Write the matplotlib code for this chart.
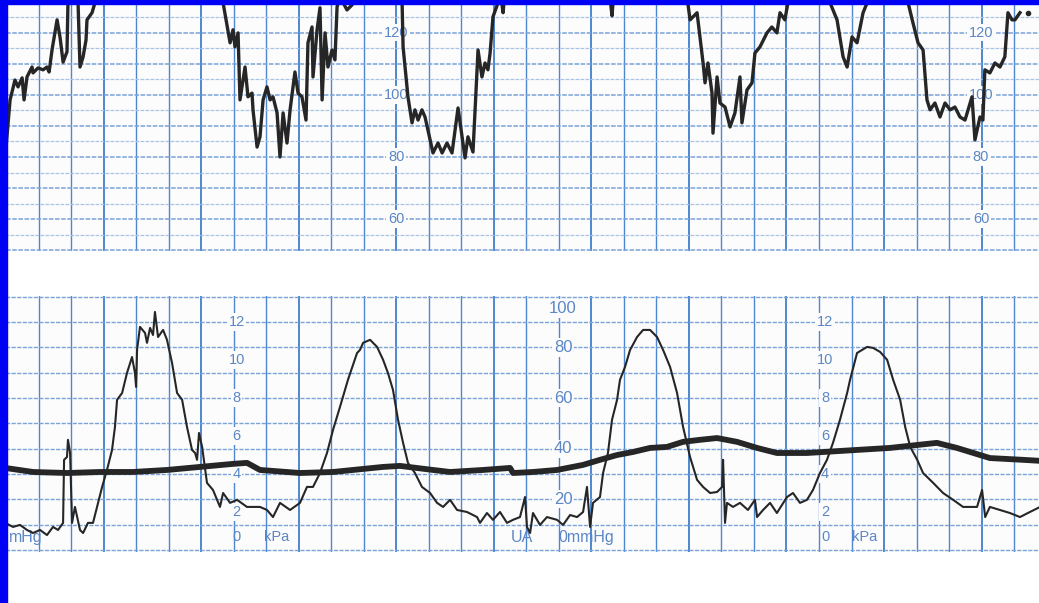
import numpy as np
import matplotlib
matplotlib.use("Agg")
import matplotlib.pyplot as plt
from matplotlib.patches import Rectangle

# ---------------- data (time in seconds along the strip) ----------------
# Fetal heart rate (bpm); values of 134 run off the top of the printed strip
fhr_t1 = [-20.5, -17.5, -14.5, -12.6, -10.1, -8.9, -7.1, -4.0, -3.4, -0.3, 2.8, 5.2, 6.5, 8.3, 11.4,
          13.2, 15.1, 17.5, 18.1, 19.4, 22.4, 24.3, 25.5, 27.4, 29.2, 29.8, 32.9, 34.7, 36.0]
fhr_v1 = [80.0, 98.4, 104.8, 102.6, 105.5, 98.4, 105.8, 109.0, 107.1, 108.7, 108.1, 109.0, 107.4, 114.5, 124.2,
          118.7, 110.6, 113.9, 129.7, 134, 134, 129.7, 109.0, 112.3, 117.7, 124.2, 126.5, 129.7, 134]
fhr_t2 = [108.6, 113.5, 117.8, 119.6, 120.8, 122.7, 123.9, 127.0, 128.8, 131.3, 131.9, 134.4, 136.2, 138.1,
          140.5, 142.4, 144.2, 146.7, 148.5, 150.4, 152.8, 154.7, 157.7, 159.6, 162.0, 164.5, 165.7, 168.2,
          168.8, 171.3, 173.1, 174.4, 176.2, 178.0, 180.5, 182.3, 183.6, 185.4, 189.7, 192.8, 195.3]
fhr_v2 = [134, 129.7, 116.8, 121.0, 115.5, 120.0, 98.4, 109.0, 99.4, 100.6, 95.2, 83.2, 86.5, 98.4,
          102.6, 98.4, 99.4, 94.2, 80.0, 94.2, 84.5, 95.2, 107.4, 100.6, 99.4, 91.9, 116.8, 121.9,
          105.8, 121.0, 128.1, 98.4, 120.0, 109.0, 114.5, 111.3, 128.4, 131.6, 127.4, 129.0, 134]
fhr_t3 = [221.0, 223.6, 224.2, 227.2, 229.7, 231.5, 233.4, 235.8, 237.7, 242.6, 245.7, 248.2, 251.2, 254.3,
          258.0, 262.3, 264.1, 267.2, 270.3, 272.7, 274.6, 276.4, 277.7, 279.5, 282.6, 283.8, 285.7, 286.9,
          350.9, 352.7, 353.9]
fhr_v3 = [134, 129.7, 115.5, 99.4, 91.0, 95.2, 91.9, 95.2, 92.9, 81.3, 84.5, 81.3, 84.5, 81.3,
          95.8, 79.7, 86.5, 81.6, 114.5, 105.8, 110.3, 108.1, 113.5, 125.2, 129.7, 134, 126.5, 134,
          134, 125.5, 134]
fhr_t4 = [398.2, 400.7, 405.0, 408.7, 409.9, 411.7, 414.2, 414.8, 417.3, 419.1, 422.2, 425.3, 428.3,
          431.4, 432.6, 435.7, 438.8, 440.6, 443.7, 448.0, 451.0, 454.1, 456.0, 459.0, 460.9, 462.2,
          484.9, 486.8, 491.1, 494.8, 497.3, 500.3, 503.4, 507.1, 509.6, 510.8]
fhr_v4 = [134, 124.2, 126.5, 110.3, 103.9, 110.3, 100.6, 87.7, 105.8, 97.4, 96.1, 89.7, 94.2,
          105.8, 91.0, 101.6, 103.9, 113.5, 115.5, 120.0, 121.9, 120.0, 126.5, 124.2, 129.7, 134,
          134, 129.7, 124.2, 112.3, 109.0, 118.7, 116.8, 126.5, 129.7, 134]
fhr_t5 = [532.9, 534.8, 537.8, 540.9, 544.0, 546.4, 548.3, 551.3, 554.4, 557.5, 560.6, 563.6, 566.7, 569.8,
          574.1, 575.9, 579.0, 580.8, 582.0, 585.1, 588.2, 591.3, 594.3, 596.2, 598.7, 600.5, 603.6]
fhr_v5 = [134, 129.7, 123.2, 116.8, 114.5, 98.4, 95.2, 97.4, 92.9, 97.4, 95.2, 96.1, 92.9, 91.9,
          99.4, 85.5, 92.9, 91.9, 108.1, 107.1, 110.3, 109.0, 112.3, 126.5, 124.2, 124.2, 126.5]
fhr_dot_t = [608.5]
fhr_dot_v = [126.5]

# Uterine activity (mmHg)
ua_t = [-20.5, -15.7, -11.4, -7.1, -3.4, 0.9, 5.2, 8.9, 12.0, 15.1, 15.7, 17.5, 18.1, 19.4, 20.6, 22.4,
        25.5, 27.4, 30.4, 33.5, 36.0, 39.1, 42.1, 45.2, 47.0, 48.3, 51.4, 54.4, 57.5, 59.3, 60.0, 60.6,
        62.4, 65.5, 66.7, 68.6, 70.4, 71.6, 73.5, 76.6, 79.0, 82.1, 85.2, 88.3, 91.3, 94.4, 96.3, 97.5,
        98.7, 100.6, 103.6, 107.3, 111.6, 113.5, 117.8, 122.1, 128.2, 136.2, 140.5, 144.2, 148.5, 154.7,
        160.8, 165.1, 168.8, 173.1, 177.4, 181.1, 185.4, 190.3, 195.9, 197.7, 199.6, 203.9, 208.2, 211.9,
        214.9, 218.0, 221.1, 224.2, 227.2, 231.5, 235.8, 240.8, 245.1, 248.8, 253.1, 257.4, 263.5, 269.7,
        271.5, 275.8, 279.5, 283.8, 288.1, 291.8, 296.1, 299.2, 300.4, 302.3, 304.1, 308.4, 312.7, 318.9,
        322.6, 326.9, 331.2, 334.9, 337.3, 339.2, 341.0, 345.3, 347.2, 350.2, 352.7, 355.8, 357.6, 360.7,
        363.8, 368.1, 371.8, 376.1, 380.4, 384.1, 388.4, 392.7, 396.4, 400.7, 405.0, 408.7, 413.0, 417.3,
        420.4, 421.0, 422.2, 423.4, 427.1, 431.4, 436.3, 440.6, 441.9, 445.6, 449.9, 454.1, 460.3, 464.0,
        468.3, 472.6, 476.3, 480.6, 484.9, 488.6, 492.9, 497.3, 499.1, 503.4, 506.5, 509.6, 513.3, 517.6,
        521.9, 525.6, 529.9, 533.0, 536.1, 540.4, 544.0, 550.2, 556.3, 562.5, 568.6, 577.2, 580.3, 582.2,
        585.1, 591.3, 597.4, 603.6, 609.7, 616.0]
ua_v = [10.7, 9.1, 9.9, 7.9, 6.7, 7.9, 5.9, 9.1, 7.9, 10.7, 35.6, 36.7, 43.5, 38.3, 10.7, 17.0,
        7.9, 6.7, 10.7, 10.7, 17.0, 24.9, 31.6, 39.5, 48.6, 59.3, 62.0, 69.9, 76.2, 69.9, 64.4, 79.0,
        88.1, 85.7, 81.8, 87.7, 84.9, 94.0, 84.1, 86.9, 83.0, 73.9, 62.0, 59.3, 48.6, 39.5, 38.3, 35.6,
        46.2, 40.7, 26.5, 23.7, 17.0, 22.5, 18.6, 19.8, 17.0, 17.0, 15.8, 13.0, 18.6, 15.8,
        18.6, 24.9, 24.9, 30.4, 38.3, 47.4, 56.5, 67.2, 77.8, 79.0, 81.8, 83.0, 80.2, 75.1,
        69.9, 63.2, 51.4, 42.3, 34.4, 30.4, 24.9, 22.5, 18.6, 17.0, 19.8, 15.8, 15.0, 13.0,
        10.7, 14.6, 11.9, 15.0, 10.7, 11.9, 13.0, 20.9, 9.1, 6.7, 14.6, 9.9, 13.0, 11.9,
        9.9, 13.8, 13.0, 15.0, 24.9, 9.1, 18.6, 20.9, 30.4, 38.3, 51.4, 59.3, 67.2, 72.3,
        79.0, 84.1, 86.9, 86.9, 84.1, 79.0, 72.3, 62.0, 48.6, 36.7, 27.7, 24.9, 22.5, 22.9,
        24.9, 35.6, 10.7, 18.6, 17.0, 18.6, 15.8, 19.8, 13.0, 15.8, 18.6, 14.6, 20.9, 22.5,
        18.6, 19.8, 23.7, 30.4, 35.6, 42.3, 51.4, 62.0, 67.2, 77.8, 79.0, 80.2, 79.8, 78.2,
        75.1, 67.2, 59.3, 48.6, 40.7, 35.6, 30.4, 26.5, 22.5, 19.8, 17.0, 17.0, 23.7, 13.0,
        17.0, 15.8, 14.6, 13.0, 15.0, 17.0]

# Second (heavy) tocograph trace
heavy_t = [-20.5, -3.4, 17.5, 37.8, 58.1, 79.0, 99.3, 119.6, 128.2, 136.2, 160.8, 181.1, 211.9, 222.3,
           242.6, 253.1, 273.4, 290.0, 291.8, 304.1, 318.9, 334.9, 345.3, 355.8, 365.6, 376.1, 386.5,
           396.4, 406.8, 417.3, 429.6, 441.9, 454.1, 472.6, 492.9, 523.6, 552.5, 564.8, 585.1, 605.4, 616.0]
heavy_v = [32.4, 30.8, 30.4, 30.8, 30.8, 31.6, 32.8, 34.0, 34.4, 31.6, 30.4, 30.8, 32.8, 33.2,
           31.6, 30.8, 31.6, 32.4, 30.4, 30.8, 31.6, 33.6, 35.6, 37.5, 38.7, 40.3, 40.7,
           42.7, 43.5, 44.2, 42.7, 40.3, 38.3, 38.3, 39.1, 40.3, 42.3, 40.3, 36.3, 35.6, 35.2]

# Scale labels printed on the paper
fhr_labels = [120, 100, 80, 60]
fhr_label_t = [219.9, 579.6]
kpa_labels = [12, 10, 8, 6, 4, 2]
kpa_label_t = [121.8, 483.7]
mmhg_labels = [80, 60, 40, 20]
mmhg_label_t = 322.6

# ---------------- styling ----------------
W, H = 1039, 603
PAPER = '#fcfcfc'
VCOL = '#4f86d0'
HCOL_MAJ = '#7aa3d8'
HCOL_MIN = '#aac4e6'
TXT = '#5b87c6'
INK = '#262626'
XL = (-23.7, 615.3)
FONT = 'Liberation Sans'

fig = plt.figure(figsize=(W / 100, H / 100), dpi=100)
fig.patch.set_facecolor('white')


def rect(top_px, bot_px):
    return [0, (H - bot_px) / H, 1, (bot_px - top_px) / H]


def blank(ax):
    ax.set_facecolor(PAPER)
    ax.set_xticks([])
    ax.set_yticks([])
    for s in ax.spines.values():
        s.set_visible(False)
    ax.set_xlim(*XL)


ax1 = fig.add_axes(rect(0, 251))
ax2 = fig.add_axes(rect(296, 552))
blank(ax1)
blank(ax2)
ax1.set_ylim(49.7, 130.6)
ax2.set_ylim(-0.8, 100.3)

for ax in (ax1, ax2):
    for t in range(-20, 621, 20):
        bold = (t % 60 == 40)
        ax.axvline(t, color=VCOL, lw=1.4 if bold else 1.0, zorder=1)

for b in range(50, 131, 5):
    maj = (b % 10 == 0)
    ax1.axhline(b, color=HCOL_MAJ if maj else HCOL_MIN, lw=1.1 if maj else 0.9,
                ls=(0, (3, 1)), zorder=1)
for m in range(0, 101, 10):
    ax2.axhline(m, color=HCOL_MAJ, lw=1.0, ls=(0, (3, 1)), zorder=1)

box = dict(facecolor=PAPER, edgecolor='none', pad=1.2)
for tx in fhr_label_t:
    for b in fhr_labels:
        ax1.text(tx, b, str(b), ha='center', va='center', fontsize=10.5, color=TXT,
                 family=FONT, bbox=box, zorder=2)

for tx in kpa_label_t:
    for k in kpa_labels:
        ax2.text(tx, k * 7.5, str(k), ha='center', va='center', fontsize=10.5, color=TXT,
                 family=FONT, bbox=box, zorder=2)
    ax2.text(tx, 5, '0', ha='center', va='center', fontsize=10.5, color=TXT, family=FONT, zorder=2)
    ax2.text(tx + 24.5, 5, 'kPa', ha='center', va='center', fontsize=10.5, color=TXT, family=FONT, zorder=2)

ax2.text(mmhg_label_t, 95.3, '100', ha='center', va='center', fontsize=12, color=TXT,
         family=FONT, bbox=box, zorder=2)
for m in mmhg_labels:
    ax2.text(mmhg_label_t, m, str(m), ha='center', va='center', fontsize=12, color=TXT,
             family=FONT, bbox=box, zorder=2)
ax2.text(297.4, 5, 'UA', ha='center', va='center', fontsize=11.5, color=TXT, family=FONT, zorder=2)
ax2.text(319.5, 5, '0mmHg', ha='left', va='center', fontsize=11.5, color=TXT, family=FONT, zorder=2)
ax2.text(-18.5, 5, 'mHg', ha='left', va='center', fontsize=11.5, color=TXT, family=FONT, zorder=2)

# traces
for tt, vv in ((fhr_t1, fhr_v1), (fhr_t2, fhr_v2), (fhr_t3, fhr_v3), (fhr_t4, fhr_v4), (fhr_t5, fhr_v5)):
    ax1.plot(tt, vv, color=INK, lw=2.4, solid_joinstyle='round', zorder=3)
ax1.plot(fhr_dot_t, fhr_dot_v, 'o', color=INK, ms=3, zorder=3)

ax2.plot(heavy_t, heavy_v, color=INK, lw=4.2, solid_joinstyle='round', zorder=3)
ax2.plot(ua_t, ua_v, color=INK, lw=1.5, solid_joinstyle='round', zorder=4)

# blue slide frame
fig.add_artist(Rectangle((0, 0), 7 / W, 1, transform=fig.transFigure, color='#0000f5', zorder=20))
fig.add_artist(Rectangle((0, 1 - 4 / H), 1, 4 / H, transform=fig.transFigure, color='#0000f5', zorder=20))

fig.savefig('out.png', dpi=100, facecolor='white')
